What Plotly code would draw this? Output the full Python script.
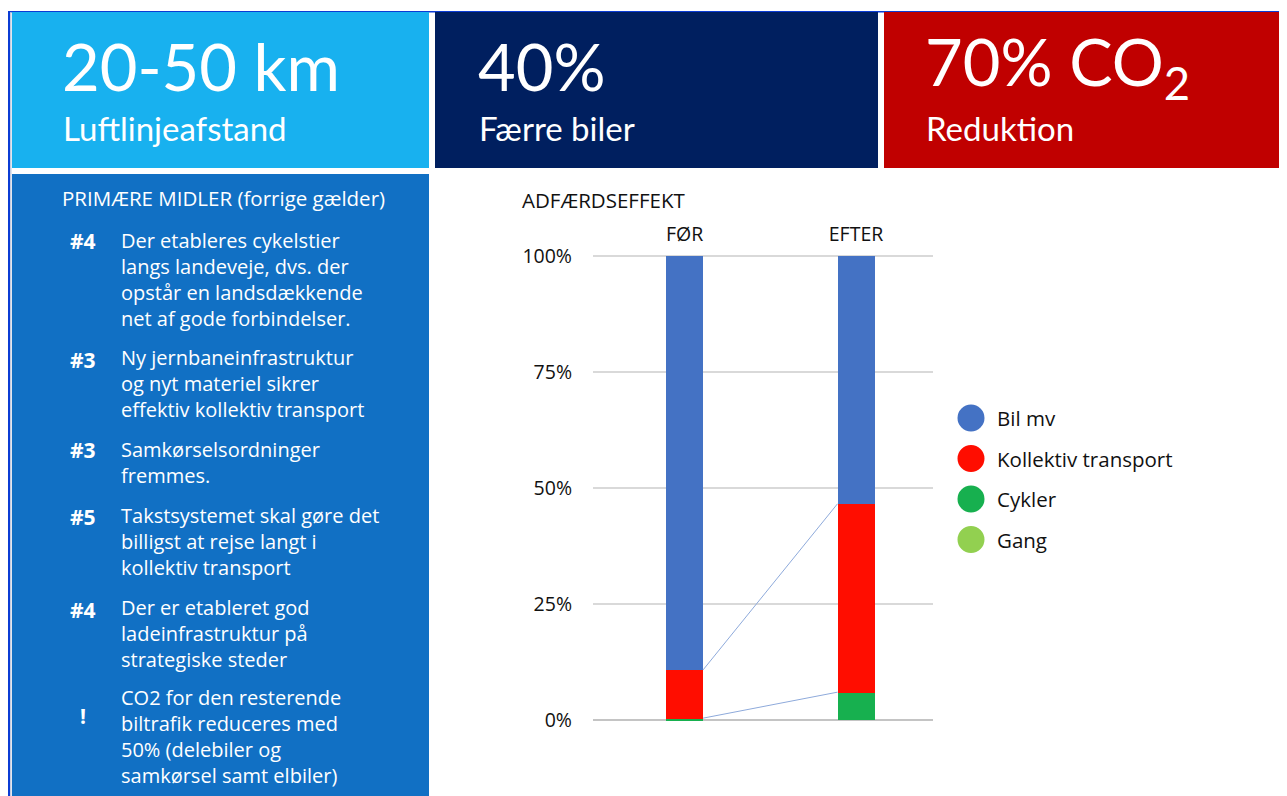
import numpy as np
import plotly.graph_objects as go

# ---- data ----
categories = ['FØR', 'EFTER']
series_names = ['Bil mv', 'Kollektiv transport', 'Cykler', 'Gang']
bil = [89.2, 53.4]
kollektiv = [10.4, 40.6]
cykler = [0.4, 6.0]
gang = [0.0, 0.0]
series_colors = ['#4472c4', '#ff0d00', '#17b04f', '#92d050']
y_ticks = [0, 25, 50, 75, 100]
y_tick_labels = ['0%', '25%', '50%', '75%', '100%']

stat_values = ['20-50 km', '40%', '70% CO<sub>2</sub>']
stat_labels = ['Luftlinjeafstand', 'Færre biler', 'Reduktion']
stat_colors = ['#18b1ef', '#001f5f', '#c00000']

measure_tags = ['#4', '#3', '#3', '#5', '#4', '!']
measure_texts = [
    ['Der etableres cykelstier', 'langs landeveje, dvs. der',
     'opstår en landsdækkende', 'net af gode forbindelser.'],
    ['Ny jernbaneinfrastruktur', 'og nyt materiel sikrer',
     'effektiv kollektiv transport'],
    ['Samkørselsordninger', 'fremmes.'],
    ['Takstsystemet skal gøre det', 'billigst at rejse langt i',
     'kollektiv transport'],
    ['Der er etableret god', 'ladeinfrastruktur på', 'strategiske steder'],
    ['CO2 for den resterende', 'biltrafik reduceres med',
     '50% (delebiler og', 'samkørsel samt elbiler)'],
]

# ---- layout helpers (page pixel -> paper) ----
# the page body has an 8px margin, so the figure starts at (8, 8)
OFF = 8
W, H = 1287 - OFF, 796 - OFF
BIG_FONT = 'Lato'
FONT = 'Open Sans'
TEXT = '#111111'


def px(x):
    return (x - OFF) / W


def py(y):
    return 1 - (y - OFF) / H


bar_width = 0.216
x_pos = np.arange(len(categories))

fig = go.Figure()

# stacked bars, bottom first
stack = [gang, cykler, kollektiv, bil]
stack_names = series_names[::-1]
stack_colors = series_colors[::-1]
for name, vals, color in zip(stack_names, stack, stack_colors):
    fig.add_trace(go.Bar(
        x=x_pos, y=vals, name=name, width=bar_width,
        marker=dict(color=color, line=dict(width=0)),
    ))

# series lines between the bars
cum = np.cumsum(np.array(stack), axis=0)
for level in (1, 2):
    fig.add_trace(go.Scatter(
        x=[x_pos[0] + bar_width / 2, x_pos[1] - bar_width / 2],
        y=[cum[level][0], cum[level][1]],
        mode='lines', line=dict(color='#8eaadb', width=1),
        hoverinfo='skip',
    ))

shapes = []
annotations = []


def rect(x0, x1, y0, y1, color, layer='below'):
    shapes.append(dict(type='rect', xref='paper', yref='paper',
                       x0=px(x0), x1=px(x1), y0=py(y1), y1=py(y0),
                       fillcolor=color, line_width=0, layer=layer))


def label(text, x, y, size, family=FONT, color=TEXT, xanchor='left', align='left'):
    annotations.append(dict(text=text, x=px(x), y=py(y), xref='paper', yref='paper',
                            xanchor=xanchor, yanchor='middle', showarrow=False,
                            align=align, borderpad=0,
                            font=dict(family=family, size=size, color=color)))


# frame
rect(8, 1287, 11, 12.5, '#0b3cd4')
rect(8, 10, 11, 796, '#0b3cd4')
rect(10, 11.5, 12.5, 796, '#c5cde0')

# stat boxes
box_x = [(12, 429), (435, 878), (884, 1287)]
text_x = [61, 477, 924]
for (x0, x1), tx, color, val, lab in zip(box_x, text_x, stat_colors, stat_values, stat_labels):
    rect(x0, x1, 12, 168, color)
    label(val, tx, 66, 65, family=BIG_FONT, color='white')
    label(lab, tx + 1, 128, 33, family=BIG_FONT, color='white')

# left panel
rect(12, 429, 174, 796, '#1170c4')
label('PRIMÆRE MIDLER (forrige gælder)', 61, 198, 20.5, color='white')

first_line_y = [241, 357, 449, 515, 607, 697]
tag_y = [241, 360, 450, 517, 610, 716]
line_step = 26  # plotly line height for a 20px font
for tag, lines, y0, ty in zip(measure_tags, measure_texts, first_line_y, tag_y):
    label('<b>' + tag + '</b>', 83, ty, 21, color='white', xanchor='center')
    label('<br>'.join(lines), 120, y0 + (len(lines) - 1) * line_step / 2, 20,
          color='white')

# chart title
label('ADFÆRDSEFFEKT', 521, 200, 20.5)

# legend with round markers
for i, (name, color) in enumerate(zip(series_names, series_colors)):
    cy = 418 + i * 40.5
    shapes.append(dict(type='circle', xref='paper', yref='paper',
                       x0=px(957.5), x1=px(984.5), y0=py(cy + 13.5), y1=py(cy - 13.5),
                       fillcolor=color, line_width=0))
    label(name, 996, cy, 20.5)

fig.update_layout(
    width=W, height=H,
    margin=dict(l=0, r=0, t=0, b=0, autoexpand=False),
    paper_bgcolor='white', plot_bgcolor='white',
    barmode='stack', bargap=0,
    showlegend=False,
    shapes=shapes, annotations=annotations,
    font=dict(family=FONT, size=19, color=TEXT),
)

pad = 0.3 * 464 / 100  # extra pixels so the 100% gridline is drawn
fig.update_xaxes(
    domain=[px(593), px(933)], range=[-0.534, 1.449],
    side='top', tickvals=x_pos, ticktext=categories,
    showgrid=False, zeroline=False, showline=False, ticks='',
    tickfont=dict(family=FONT, size=19.5, color=TEXT),
    ticklabelstandoff=9, automargin=False,
)

fig.update_yaxes(
    domain=[py(720 + pad), py(256 - pad)], range=[-0.3, 100.3],
    tickvals=y_ticks, ticktext=y_tick_labels,
    showgrid=True, gridcolor='#d9d9d9', gridwidth=2,
    zeroline=True, zerolinecolor='#c4c4c4', zerolinewidth=2,
    showline=False, ticks='',
    tickfont=dict(family=FONT, size=19.5, color=TEXT),
    ticklabelstandoff=20, automargin=False,
)

fig.write_html('out.html')
